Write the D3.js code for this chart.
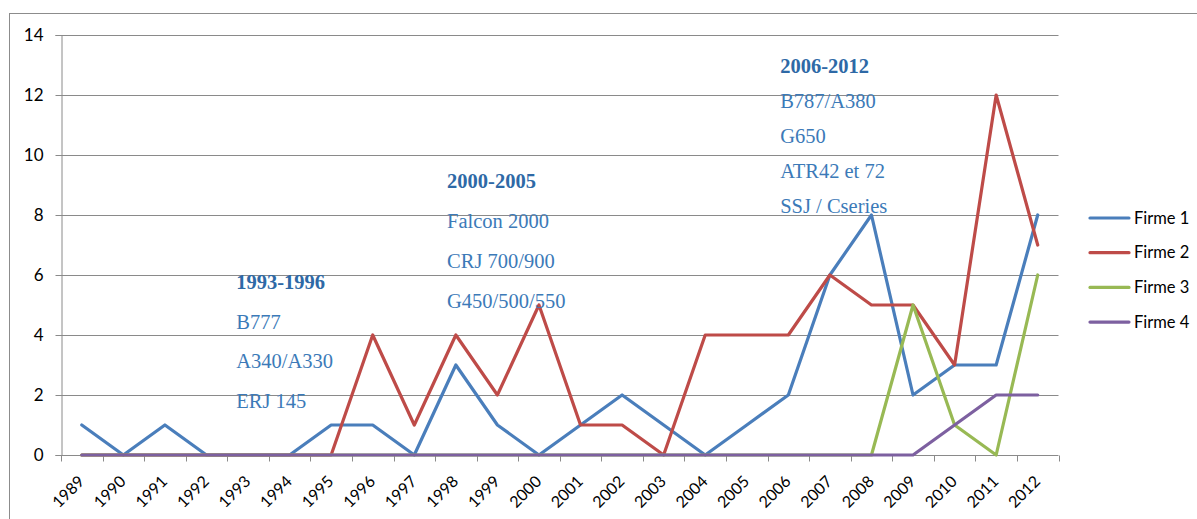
<!DOCTYPE html>
<html><head><meta charset="utf-8">
<script src="https://cdn.jsdelivr.net/npm/d3@7"></script>
<style>body{margin:0;background:#fff}svg{display:block}</style>
</head><body>
<svg id="c" width="1197" height="519"></svg>
<script>
const years = ["1989","1990","1991","1992","1993","1994","1995","1996","1997","1998","1999","2000","2001","2002","2003","2004","2005","2006","2007","2008","2009","2010","2011","2012"];
const firme1 = [1,0,1,0,0,0,1,1,0,3,1,0,1,2,1,0,1,2,6,8,2,3,3,8];
const firme2 = [0,0,0,0,0,0,0,4,1,4,2,5,1,1,0,4,4,4,6,5,5,3,12,7];
const firme3 = [0,0,0,0,0,0,0,0,0,0,0,0,0,0,0,0,0,0,0,0,5,1,0,6];
const firme4 = [0,0,0,0,0,0,0,0,0,0,0,0,0,0,0,0,0,0,0,0,0,1,2,2];
const seriesNames = ["Firme 1","Firme 2","Firme 3","Firme 4"];
const seriesColors = ["#4A7EBB","#BE4B48","#98B954","#7D60A0"];
const yTicks = [0,2,4,6,8,10,12,14];
const annotations = [
  {year:"1993", lines:["1993-1996","B777","A340/A330","ERJ 145"]},
  {year:"1998", lines:["2000-2005","Falcon 2000","CRJ 700/900","G450/500/550"]},
  {year:"2006", lines:["2006-2012","B787/A380","G650","ATR42 et 72","SSJ / Cseries"]}
];

const svg = d3.select("#c");
const L = 61, R = 1058.5, T = 35, B = 455;
const x = d3.scaleBand().domain(years).range([L, R]);
const y = d3.scaleLinear().domain([0,14]).range([B, T]);
const sans = "Lato, 'Open Sans', sans-serif";

// outer border
svg.append("rect").attr("x",9.5).attr("y",13.5).attr("width",1400).attr("height",700)
  .attr("fill","none").attr("stroke","#8c8c8c").attr("stroke-width",1);

// gridlines
svg.append("g").selectAll("line").data(yTicks.filter(d=>d>0)).join("line")
  .attr("x1",L).attr("x2",R).attr("y1",d=>Math.round(y(d))+0.5).attr("y2",d=>Math.round(y(d))+0.5)
  .attr("stroke","#8a8a8a").attr("stroke-width",1);

// y axis
const yAxis = svg.append("g").attr("transform",`translate(${L+0.5},0)`)
  .call(d3.axisLeft(y).tickValues(yTicks).tickSize(6).tickPadding(12).tickFormat(d3.format("d")));
yAxis.select(".domain").attr("stroke","#8a8a8a");
yAxis.selectAll(".tick line").attr("stroke","#8a8a8a");
yAxis.selectAll(".tick text").attr("font-family",sans).attr("font-size",17).attr("fill","#000");
yAxis.selectAll(".tick").attr("transform",d=>`translate(0,${Math.round(y(d))+0.5})`);

// x axis
const xg = svg.append("g").attr("transform",`translate(0,${B+0.5})`);
xg.append("line").attr("x1",L).attr("x2",R).attr("stroke","#8a8a8a");
const edges = years.map(d=>x(d)).concat([R]);
xg.selectAll("line.t").data(edges).join("line").attr("class","t")
  .attr("x1",d=>Math.round(d)+0.5).attr("x2",d=>Math.round(d)+0.5).attr("y1",0).attr("y2",6)
  .attr("stroke","#8a8a8a");
xg.selectAll("text").data(years).join("text")
  .attr("transform",d=>`translate(${x(d)+x.bandwidth()/2+3.5},${27}) rotate(-45)`)
  .attr("text-anchor","end")
  .attr("font-family",sans).attr("font-size",16).attr("fill","#000")
  .text(d=>d);

// lines
const allSeries = [firme1, firme2, firme3, firme4];
const line = d3.line().x((d,i)=>x(years[i])+x.bandwidth()/2).y(d=>y(d));
svg.append("g").selectAll("path").data(allSeries).join("path")
  .attr("d",d=>line(d)).attr("fill","none")
  .attr("stroke",(d,i)=>seriesColors[i]).attr("stroke-width",3.2)
  .attr("stroke-linejoin","round").attr("stroke-linecap","round");

// annotations
const ann = svg.append("g").attr("font-family","'Liberation Serif','Times New Roman',serif");
const annTop = [289, 188, 73];
const annStep = [39.5, 40, 35];
const annOff = [9, 12, 12.6];
annotations.forEach((a,k)=>{
  const g = ann.append("g");
  a.lines.forEach((t,j)=>{
    g.append("text").attr("x", x(a.year) + annOff[k])
      .attr("y", annTop[k] + j*annStep[k])
      .attr("font-size",20.5).attr("font-weight", j===0 ? "bold" : "normal")
      .attr("fill", j===0 ? "#2E69A6" : "#3C7AB8")
      .text(t);
  });
});

// legend
const lg = svg.append("g");
seriesNames.forEach((n,i)=>{
  const yy = 218 + i*34.7;
  lg.append("line").attr("x1",1090).attr("x2",1129).attr("y1",yy).attr("y2",yy)
    .attr("stroke",seriesColors[i]).attr("stroke-width",3.2).attr("stroke-linecap","round");
  lg.append("text").attr("x",1134).attr("y",yy).attr("dy","0.35em")
    .attr("font-family",sans).attr("font-size",16.5).attr("fill","#000").text(n);
});
</script>
</body></html>
